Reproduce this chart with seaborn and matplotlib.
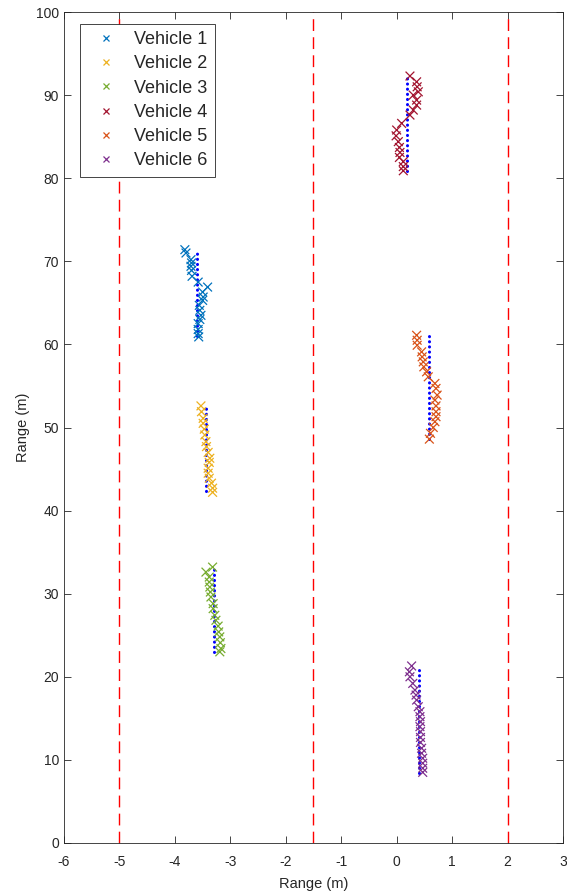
import numpy as np
import pandas as pd
import matplotlib
matplotlib.use("Agg")
import matplotlib.pyplot as plt
import seaborn as sns

# measured positions (x marks), one list per vehicle
v1_x = [-3.82, -3.80, -3.71, -3.70, -3.71, -3.70, -3.69, -3.58, -3.41, -3.50,
        -3.49, -3.50, -3.56, -3.55, -3.53, -3.55, -3.58, -3.58, -3.58, -3.57]
v1_y = [71.4, 71.0, 70.2, 69.8, 69.4, 68.9, 68.2, 67.5, 66.9, 66.3,
        65.7, 65.3, 64.7, 64.1, 63.5, 63.0, 62.5, 61.8, 61.3, 60.9]
v2_x = [-3.53, -3.52, -3.49, -3.49, -3.47, -3.46, -3.44, -3.43, -3.40, -3.37,
        -3.38, -3.40, -3.40, -3.38, -3.34, -3.32, -3.32]
v2_y = [52.6, 51.9, 51.1, 50.5, 49.8, 49.1, 48.3, 47.7, 47.0, 46.3,
        45.8, 45.1, 44.5, 43.9, 43.3, 42.7, 42.2]
v3_x = [-3.44, -3.32, -3.38, -3.38, -3.37, -3.36, -3.35, -3.31, -3.31, -3.28,
        -3.26, -3.22, -3.21, -3.19, -3.18, -3.17, -3.19]
v3_y = [32.6, 33.2, 32.0, 31.4, 30.8, 30.2, 29.6, 28.8, 28.2, 27.4,
        26.8, 26.1, 25.4, 24.8, 24.1, 23.4, 23.0]
v4_x = [0.24, 0.36, 0.37, 0.39, 0.30, 0.36, 0.36, 0.30, 0.24, 0.09,
        0.00, -0.01, 0.03, 0.05, 0.06, 0.05, 0.12, 0.12, 0.12]
v4_y = [92.3, 91.6, 91.0, 90.4, 90.0, 89.4, 88.8, 88.2, 87.6, 86.6,
        85.8, 85.1, 84.4, 83.7, 83.1, 82.5, 82.0, 81.4, 80.9]
v5_x = [0.36, 0.37, 0.37, 0.45, 0.46, 0.48, 0.49, 0.54, 0.57, 0.69,
        0.71, 0.73, 0.69, 0.71, 0.71, 0.71, 0.69, 0.66, 0.61, 0.59]
v5_y = [61.1, 60.5, 59.9, 59.1, 58.5, 57.9, 57.3, 56.7, 56.1, 55.3,
        54.7, 53.9, 53.3, 52.6, 51.9, 51.3, 50.7, 50.0, 49.3, 48.6]
v6_x = [0.27, 0.23, 0.24, 0.29, 0.33, 0.35, 0.36, 0.39, 0.42, 0.42,
        0.43, 0.42, 0.43, 0.43, 0.43, 0.45, 0.45, 0.47, 0.47, 0.47, 0.47]
v6_y = [21.3, 20.6, 20.0, 19.2, 18.4, 17.8, 17.2, 16.4, 15.8, 15.2,
        14.6, 14.0, 13.4, 12.7, 12.1, 11.4, 10.8, 10.2, 9.6, 9.0, 8.5]

# ground truth tracks (blue dotted), lane x and start/end range
truth_x = [-3.60, -3.43, -3.29, 0.18, 0.58, 0.40]
truth_y0 = [61.0, 42.3, 23.0, 80.9, 48.6, 8.4]
truth_y1 = [71.5, 52.5, 33.2, 92.3, 61.1, 21.2]

lane_lines = [-5, -1.5, 2]
vehicles = ["Vehicle 1", "Vehicle 2", "Vehicle 3", "Vehicle 4", "Vehicle 5", "Vehicle 6"]
colors = ["#0072BD", "#EDB120", "#77AC30", "#A2142F", "#D95319", "#7E2F8E"]

xs = [v1_x, v2_x, v3_x, v4_x, v5_x, v6_x]
ys = [v1_y, v2_y, v3_y, v4_y, v5_y, v6_y]
df = pd.concat([pd.DataFrame({"x": a, "y": b, "vehicle": name})
                for a, b, name in zip(xs, ys, vehicles)], ignore_index=True)

sns.set_style("white")
plt.rcParams["font.family"] = ["Liberation Sans", "DejaVu Sans"]
plt.rcParams["lines.scale_dashes"] = False
plt.rcParams["axes.unicode_minus"] = False

fig = plt.figure(figsize=(5.67, 8.91), dpi=100)
ax = fig.add_axes([0.1129, 0.0539, 0.88, 0.9326])

for lx in lane_lines:
    ax.axvline(lx, color="red", ls=(0, (8.5, 4.5)), lw=1.0, zorder=1)

for tx, a, b in zip(truth_x, truth_y0, truth_y1):
    ax.plot([tx, tx], [a, b], color="blue", lw=2.2, ls=(0, (0.1, 3.6)),
            dash_capstyle="round", zorder=2)

sns.scatterplot(data=df, x="x", y="y", hue="vehicle", hue_order=vehicles,
                palette=colors, marker="x", s=40, linewidth=0.9, ax=ax, zorder=3)

ax.set_xlim(-6, 3)
ax.set_ylim(0, 100)
ax.set_xticks(range(-6, 4))
ax.set_yticks(range(0, 101, 10))
ax.set_xlabel("Range (m)", fontsize=10.5, labelpad=6)
ax.set_ylabel("Range (m)", fontsize=10.5, labelpad=4)
ax.tick_params(axis="both", direction="in", length=5, width=0.6, labelsize=10,
               top=True, right=True, bottom=True, left=True, color="#262626")
ax.tick_params(axis="x", pad=8.5)
for s in ax.spines.values():
    s.set_linewidth(0.6)
    s.set_color("#262626")

handles, labels = ax.get_legend_handles_labels()
leg = ax.legend(handles, labels, loc="upper left", bbox_to_anchor=(0.032, 0.986),
                borderaxespad=0, fontsize=13, frameon=True, fancybox=False,
                edgecolor="#262626", framealpha=1, handletextpad=0.55,
                borderpad=0.42, labelspacing=0.4, handlelength=2.0,
                markerscale=0.7)
leg.get_frame().set_linewidth(0.6)

fig.savefig("out.png", dpi=100)
